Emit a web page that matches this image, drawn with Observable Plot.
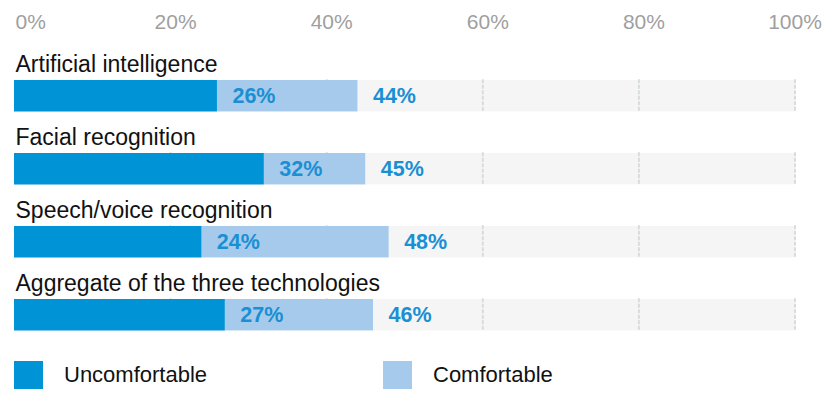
<!DOCTYPE html>
<html><head><meta charset="utf-8">
<script src="https://cdn.jsdelivr.net/npm/d3@7"></script>
<script src="https://cdn.jsdelivr.net/npm/@observablehq/plot@0.6"></script>
<style>
body{margin:0;background:#fff;font-family:"Liberation Sans",Arial,sans-serif;}
#legend{position:relative;height:75px;}
.item{position:absolute;top:21px;display:flex;align-items:center;font-size:22px;color:#111;}
.sw{width:29px;height:28px;margin-right:21px}
</style></head><body><div id="chart"></div><div id="legend"></div>
<script>
const categories = ["Artificial intelligence","Facial recognition","Speech/voice recognition","Aggregate of the three technologies"];
const uncomfortable = [26,32,24,27];
const comfortable = [44,45,48,46];
const ticks = [0,20,40,60,80,100];
const seriesNames = ["Uncomfortable","Comfortable"];
const colors = ["#0094d6","#a6caeb"];

const rows = categories.map((c,i)=>({category:c, unc:uncomfortable[i], com:comfortable[i]}));
const grid = rows.flatMap(r => ticks.filter(t=>t>0).map(t=>({category:r.category, t})));
const barOpts = {insetTop:34, insetBottom:7.6};
const font = "Liberation Sans, Arial, sans-serif";

const chart = Plot.plot({
  width:835, height:340, marginLeft:14, marginRight:40.5, marginTop:45, marginBottom:1.7,
  x:{domain:[0,100], axis:null},
  y:{domain:categories, axis:null, padding:0},
  style:{fontFamily:font, background:"transparent", overflow:"visible"},
  marks:[
    Plot.barX(rows,{y:"category", x1:()=>0, x2:()=>100, fill:"#f5f5f5", ...barOpts}),
    Plot.tickX(grid,{x:"t", y:"category", stroke:"#d8dcdf", strokeWidth:2, strokeDasharray:"2.5,3", strokeLinecap:"round", ...barOpts}),
    Plot.barX(rows,{y:"category", x1:()=>0, x2:"com", fill:colors[1], ...barOpts}),
    Plot.barX(rows,{y:"category", x1:()=>0, x2:"unc", fill:colors[0], ...barOpts}),
    Plot.text(rows,{y:"category", x:"unc", text:d=>d.unc+"%", textAnchor:"start", dx:15, dy:13.2, fontSize:21.5, fontWeight:"bold", fill:"#1a8fd3"}),
    Plot.text(rows,{y:"category", x:"com", text:d=>d.com+"%", textAnchor:"start", dx:15, dy:13.2, fontSize:21.5, fontWeight:"bold", fill:"#1a8fd3"}),
    Plot.text(rows,{y:"category", frameAnchor:"left", text:"category", textAnchor:"start", lineAnchor:"bottom", dx:1, dy:-10.7, fontSize:23, fill:"#111"}),
    Plot.text(ticks.filter(t=>t===0),{x:d=>d, text:d=>d+"%", frameAnchor:"top", lineAnchor:"bottom", textAnchor:"start", dx:1, dy:-17, fontSize:21, fill:"#a0a0a0"}),
    Plot.text(ticks.filter(t=>t>0 && t<100),{x:d=>d, text:d=>d+"%", frameAnchor:"top", lineAnchor:"bottom", dx:5, dy:-17, fontSize:21, fill:"#a0a0a0"}),
    Plot.text(ticks.filter(t=>t===100),{x:d=>d, text:d=>d+"%", frameAnchor:"top", lineAnchor:"bottom", dy:-17, fontSize:21, fill:"#a0a0a0"})
  ]
});
document.getElementById("chart").appendChild(chart);

const legend = document.getElementById("legend");
const lefts = [14, 383];
seriesNames.forEach((n,i)=>{
  const it = document.createElement("div");
  it.className = "item";
  it.style.left = lefts[i]+"px";
  it.innerHTML = `<span class="sw" style="background:${colors[i]}"></span><span>${n}</span>`;
  legend.appendChild(it);
});
</script></body></html>
